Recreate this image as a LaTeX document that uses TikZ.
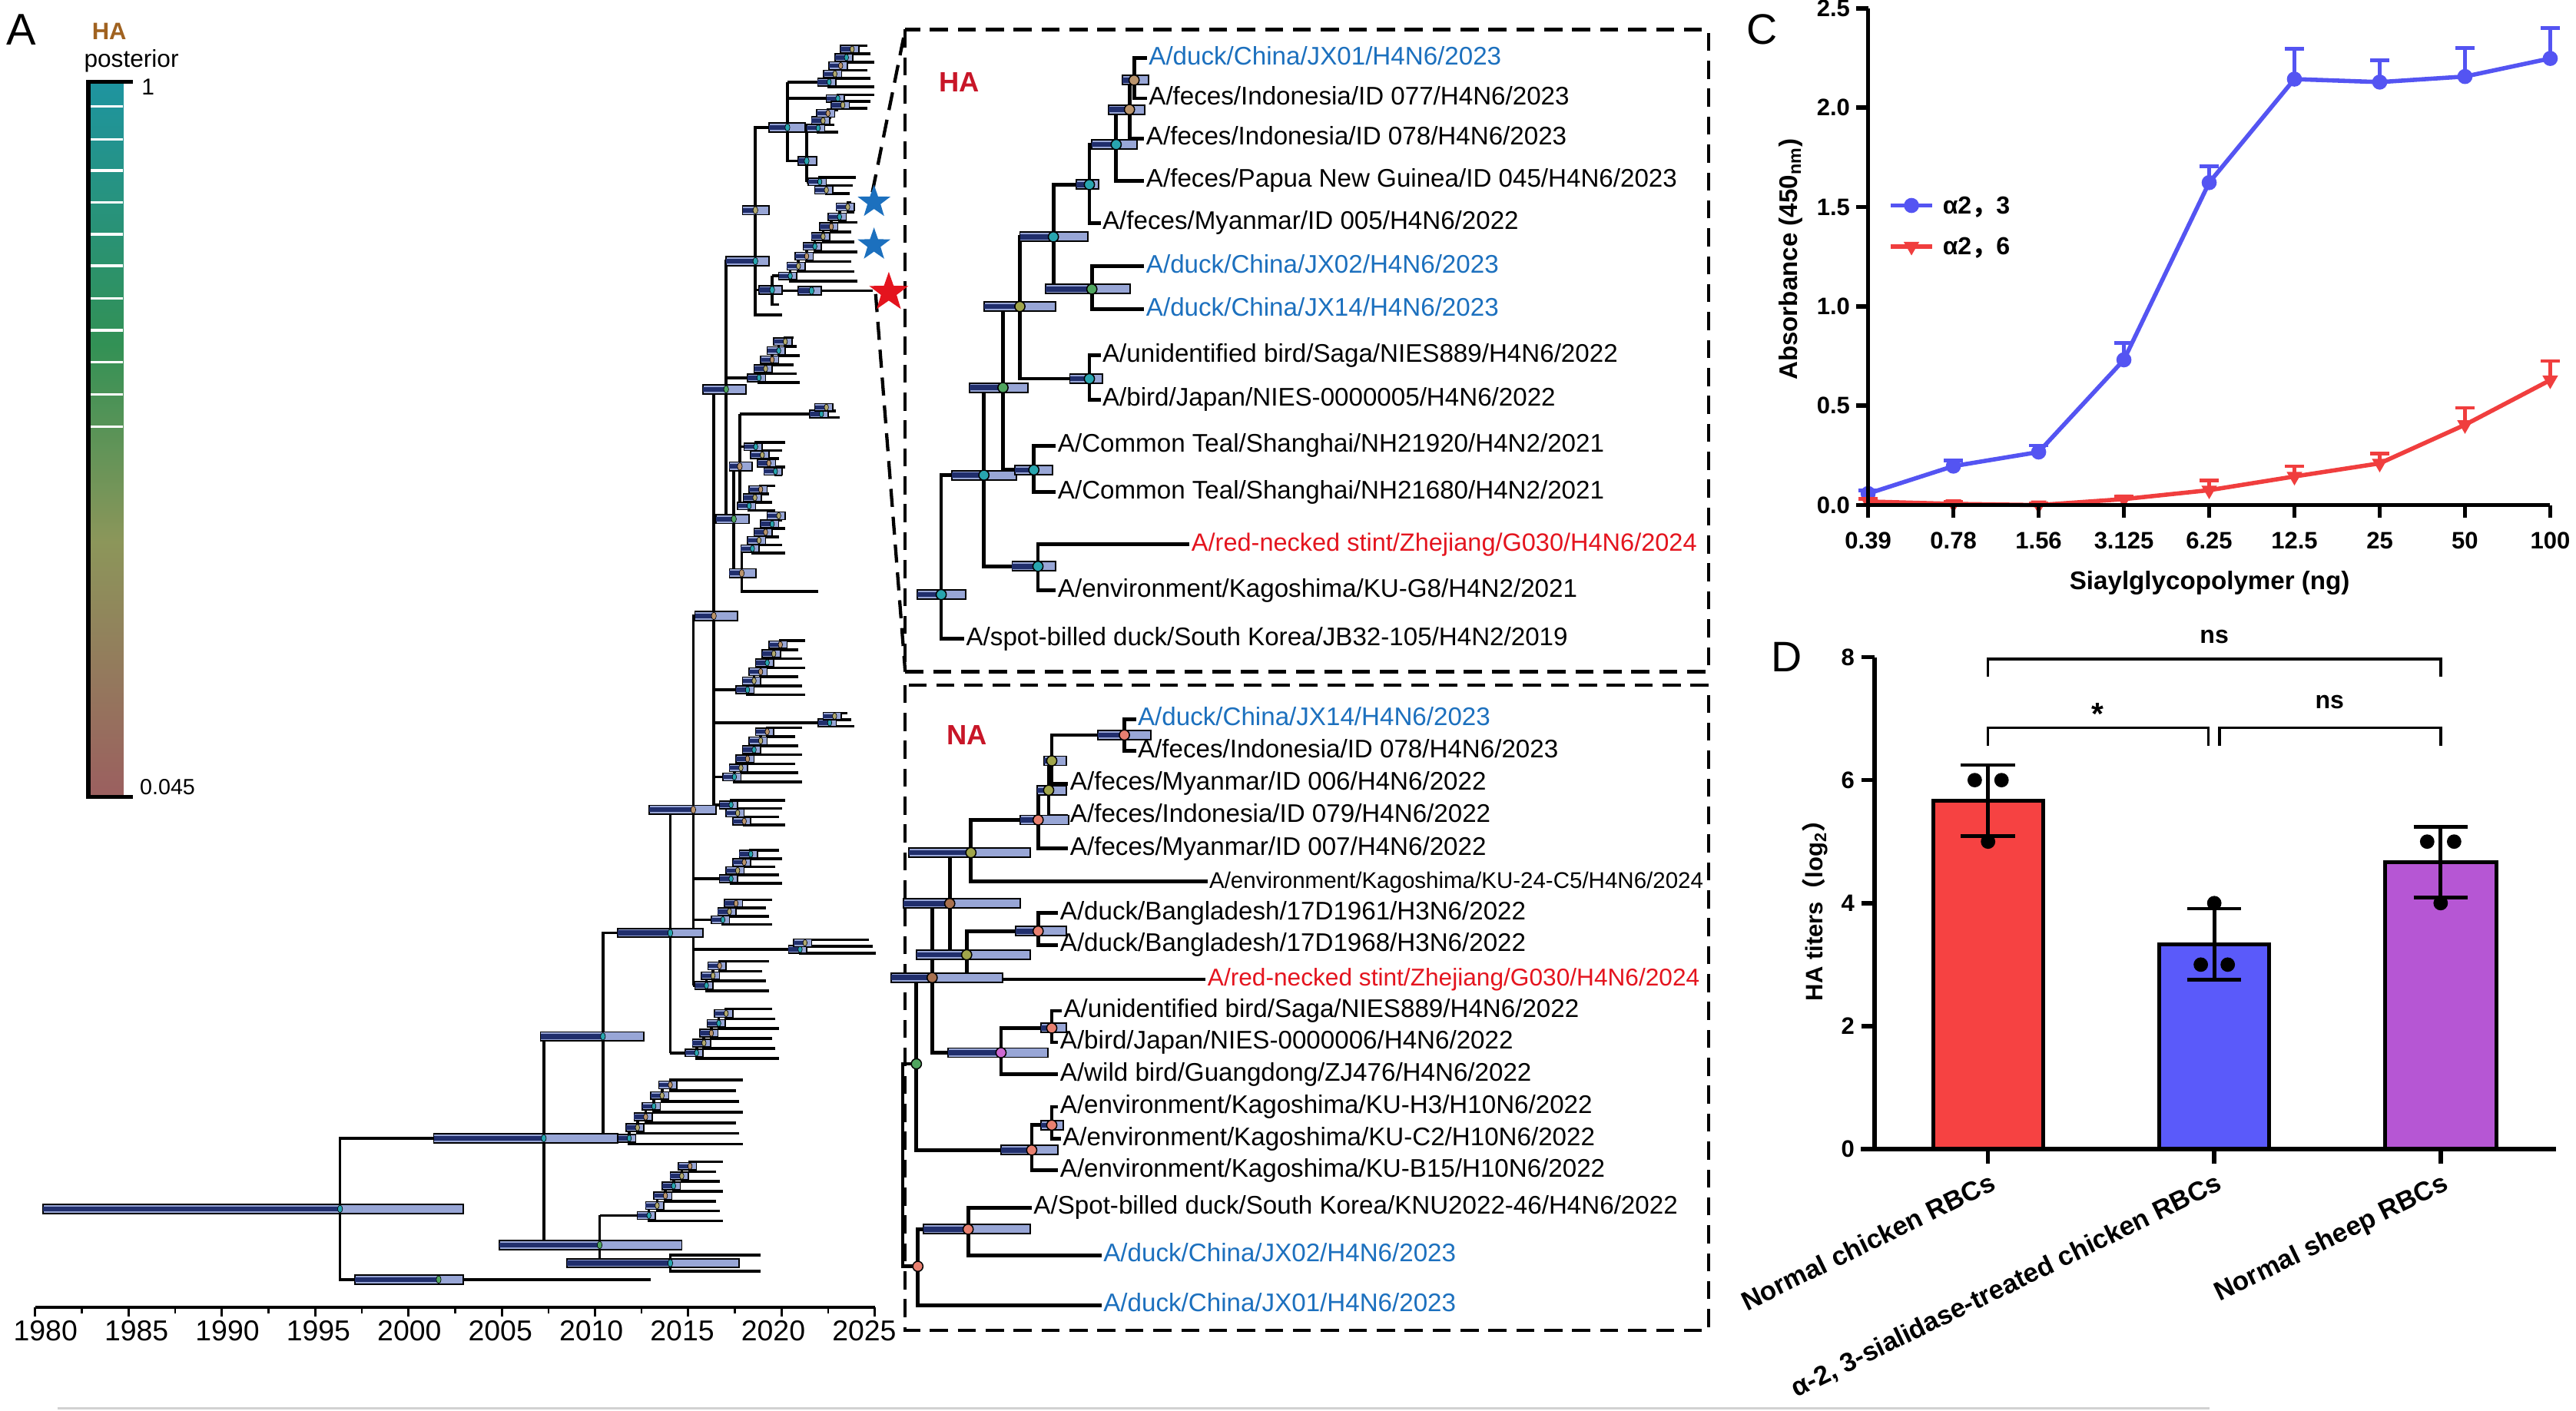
\documentclass[tikz,border=0pt]{standalone}
\usepackage{fontspec}
\setmainfont{Liberation Sans}
\newfontfamily\cjk{Noto Sans CJK SC}
\usepackage{tikz}
\usetikzlibrary{shapes.geometric}

\definecolor{hpdlight}{RGB}{152,166,214}
\definecolor{hpddark}{RGB}{32,46,108}
\definecolor{dot0}{RGB}{40,165,175}
\definecolor{dot1}{RGB}{176,168,110}
\definecolor{dot2}{RGB}{186,148,108}
\definecolor{dotgreen}{RGB}{80,165,95}
\definecolor{dotsalmon}{RGB}{232,128,112}
\definecolor{dotpink}{RGB}{205,105,210}
\definecolor{dotbrown}{RGB}{168,112,78}
\definecolor{dotolive}{RGB}{160,165,75}
\definecolor{taxblue}{RGB}{28,112,190}
\definecolor{taxred}{RGB}{228,20,30}
\definecolor{panelred}{RGB}{200,22,40}
\definecolor{haBrown}{RGB}{160,98,32}
\definecolor{lineblue}{RGB}{84,84,242}
\definecolor{linered}{RGB}{240,62,62}
\definecolor{barred}{RGB}{246,66,66}
\definecolor{barblue}{RGB}{90,90,250}
\definecolor{barpurple}{RGB}{182,86,212}
\definecolor{cb1}{RGB}{30,148,160}
\definecolor{cb2}{RGB}{50,145,85}
\definecolor{cb3}{RGB}{140,150,90}
\definecolor{cb4}{RGB}{155,95,95}

\newcommand{\fsz}[1]{\fontsize{#1}{#1}\selectfont}

% HPD bar: [half height]{left}{node x}{right}{y}
\newcommand{\hpd}[5][2.3]{%
  \filldraw[fill=hpdlight, draw=black, line width=0.32*#1] (#2,#5-#1) rectangle (#4,#5+#1);
  \fill[hpddark] (#2,#5-0.55*#1) rectangle (#3,#5+0.55*#1);
}

% ladder clade: {parent x}{stem y}{first node x}{tips}{tip gap}{node step}{tip x}
\newcommand{\ladder}[7]{%
  \pgfmathsetmacro{\lyb}{#2+0.55*(#5)}
  \pgfmathtruncatemacro{\lnn}{#4-2}
  \draw[branch] (#1,#2) -- (#3,#2);
  \foreach \j in {0,...,\lnn}{
    \pgfmathsetmacro{\lx}{#3+\j*(#6)}
    \pgfmathsetmacro{\ly}{\lyb-\j*(#5)}
    \pgfmathsetmacro{\lt}{\lyb-(\j+1)*(#5)-(\j<\lnn)*0.55*(#5)}
    \pgfmathsetmacro{\lr}{\j<\lnn ? \lx+(#6) : #7-2*mod(\j+1,3)}
    \pgfmathsetmacro{\le}{#7-2*mod(\j,3)}
    \draw[branch] (\le,\ly) -| (\lx,\lt) -- (\lr,\lt);
  }
  \foreach \j in {0,...,\lnn}{
    \pgfmathsetmacro{\lx}{#3+\j*(#6)}
    \pgfmathsetmacro{\ly}{\lyb-(\j+0.55)*(#5)}
    \pgfmathtruncatemacro{\lc}{mod(\j,3)}
    \hpd{\lx-7}{\lx}{\lx+4}{\ly}
    \fill[dot\lc, draw=black, line width=0.3] (\lx,\ly) ellipse (1.3 and 2);
  }
}

\begin{document}
\begin{tikzpicture}[x=1pt, y=-1pt,
  branch/.style={line width=1.7},
  habranch/.style={line width=2.2},
  taxon/.style={anchor=west, inner sep=1pt, text height=11pt, text depth=3pt, font=\fsz{15.5}},
  boxline/.style={line width=2, dash pattern=on 11pt off 6pt},
  ticklab/.style={font=\bfseries\fsz{14.5}, inner sep=1pt},
  grouplab/.style={font=\bfseries\fsz{16.2}, inner sep=1pt, rotate=26, anchor=north east},
  axisline/.style={line width=2.6},
  errbar/.style={line width=2.2}]
\useasboundingbox (0,0) rectangle (1568,859);
\fill[white] (0,0) rectangle (1568,859);

% ---------- panel A: colour key ----------
\node[font=\fsz{27}, inner sep=0] (pA) at (13,18) {A};
\node[font=\bfseries\fsz{14.5}, text=haBrown, inner sep=0] (keyHA) at (66.5,19) {HA};
\node[font=\fsz{14.8}, inner sep=0] (keyPost) at (80,37) {posterior};
\shade[top color=cb1, bottom color=cb2] (55,50) rectangle (75,210);
\shade[top color=cb2, bottom color=cb3] (55,209.5) rectangle (75,330);
\shade[top color=cb3, bottom color=cb4] (55,329.5) rectangle (75,485);
\foreach \wy in {64.8,84.8,103.9,123.1,142.7,161.8,181.8,201.0,220.5,240.1,259.7}
  \draw[white, line width=1.6] (55,\wy) -- (75,\wy);
\draw[line width=2.4] (81,50) -- (53.8,50) -- (53.8,485) -- (81,485);
\node[font=\fsz{14}, anchor=west, inner sep=0] (key1) at (86,53) {1};
\node[font=\fsz{13.4}, anchor=west, inner sep=0] (key0) at (85,479) {0.045};

% ---------- panel A: time tree ----------
% backbone
\draw[branch] (331,693) -| (207,779) -- (396,779);
\draw[branch] (367,631) -| (331,758) -- (365,758);
\draw[branch] (408,568) -| (367,693);
\draw[branch] (422,493) -| (408,641);
\draw[branch] (434.5,375) -| (422,600);
\draw[branch] (442,237) -| (434.5,490);
\draw[branch] (459.8,159) -| (442,316) -- (446.7,316);
\draw[branch] (446.7,284) -- (450.3,284);
\draw[branch] (446.7,284) -- (446.7,349) -- (451.5,349);
\draw[branch] (450.3,252) -- (450.3,308);
\draw[branch] (451.5,334) -- (451.5,360) -- (498,360);
\draw[branch] (479.3,77.6) -| (459.8,191.7) -- (476,191.7);
\draw[branch] (459.8,176.5) -- (470,176.5);
\draw[branch] (470,168) -- (470,185.5) -- (474,185.5);
\draw[branch] (470,177) -- (531,177);
\draw[branch] (479.3,50) -- (479.3,98) -- (491,98);
\draw[branch] (491,78) -- (491,110.7);
\draw[branch] (365,740) -- (365,769) -- (408,769);
\draw[branch] (463,764) -| (408,774) -- (463,774);

% clades
\ladder{365}{740}{395}{7}{6}{5}{440}
\ladder{367}{693}{383}{7}{6.5}{5}{452}
\ladder{408}{641}{424}{6}{6}{4.5}{474}
\ladder{422}{600}{430}{4}{6}{4}{468}
\ladder{422}{578}{487}{3}{4}{3}{533}
\ladder{422}{560}{440}{4}{5}{4}{470}
\ladder{422}{535}{445}{5}{5}{4}{476}
\ladder{434.5}{490}{445}{4}{-5}{4}{478}
\ladder{434.5}{473}{447}{7}{5.5}{4}{488}
\ladder{434.5}{440}{505}{3}{4}{3}{520}
\ladder{434.5}{420}{455}{7}{5.5}{4}{490}
\ladder{442}{230}{462}{6}{5.5}{4}{487}
\ladder{450.3}{252}{500}{3}{4}{3}{511}
\ladder{450.3}{272}{460}{5}{-5}{4}{478}
\ladder{450.3}{308}{456}{4}{5}{3.5}{472}
\ladder{451.5}{334}{458}{6}{5}{4}{478}
\ladder{470}{168}{481}{9}{6}{5}{522}
\ladder{479.3}{50}{504.7}{6}{5}{3.5}{532}
\ladder{479.3}{60}{510}{3}{-4}{3}{532}
\ladder{491}{78}{498}{4}{4.5}{3}{510}
\ladder{491}{110.7}{499}{3}{-5}{4}{521}

% backbone bars and posterior dots
\foreach \xl/\xn/\xr/\yn/\dc in {26/207/282/736/dot0, 216/267/282/779/dotgreen,
    264/331/376/693/dot0, 304/365/415/758/dotgreen, 345/408/450/769/dot0,
    329/367/392/631/dot0, 376/408/428/568/dot0, 395/422/436/493/dot2,
    423/434.5/449/375/dot2, 428/442/454/237/dotgreen, 436/446.7/456/316/dotgreen,
    444/450.3/458/284/dot2, 444/451.5/460/349/dot2, 442/459.8/468/159/dot0,
    452/459.8/468/128/dot1, 462/470/476/176.5/dot0, 468/479.3/490/77.6/dot0,
    486/491/497/98/dot0, 486/494/500/177/dot0}{
  \hpd[2.7]{\xl}{\xn}{\xr}{\yn}
  \fill[\dc, draw=black, line width=0.3] (\xn,\yn) ellipse (1.5 and 2.3);
}

% time axis
\draw[line width=1.6] (21.5,796) -- (532.5,796);
\foreach \k in {0,...,9}{
  \pgfmathsetmacro{\tx}{21.5+56.78*\k}
  \pgfmathsetmacro{\lx}{27.7+55.37*\k}
  \pgfmathtruncatemacro{\yr}{1980+5*\k}
  \draw[line width=1.4] (\tx,796) -- (\tx,801.5);
  \node[font=\fsz{17.5}, inner sep=0] (yr\k) at (\lx,810) {\yr};
}
\foreach \k in {0,...,8}{
  \pgfmathsetmacro{\tx}{21.5+56.78*(\k+0.5)}
  \draw[line width=1.2] (\tx,796) -- (\tx,799.5);
}

% ---------- zoom boxes ----------
\coordinate (haNW) at (551,18);
\coordinate (haSE) at (1040,409);
\coordinate (haSW) at (551,409);
\coordinate (naNW) at (551,417);
\coordinate (naSE) at (1040,810);
\coordinate (zoomTop) at (531,117);
\coordinate (zoomBot) at (533,179);
\draw[boxline] (haNW) rectangle (haSE);
\draw[boxline] (naNW) rectangle (naSE);
\draw[boxline] (zoomTop) -- (haNW);
\draw[boxline] (zoomBot) -- (haSW);
\node[star, star points=5, star point ratio=2.5, fill=taxblue, inner sep=0, minimum size=21pt] (starA) at (532,123) {};
\node[star, star points=5, star point ratio=2.5, fill=taxblue, inner sep=0, minimum size=21pt] (starB) at (532,149) {};
\node[star, star points=5, star point ratio=2.5, fill=taxred, inner sep=0, minimum size=25pt] (starC) at (541,178) {};

% ---------- HA subtree ----------
\node[font=\bfseries\fsz{17}, text=panelred] (haTitle) at (584,50) {HA};
\node[taxon, text=taxblue] (ha1) at (698.1,35.4) {A/duck/China/JX01/H4N6/2023};
\node[taxon] (ha2) at (698.1,59.9) {A/feces/Indonesia/ID 077/H4N6/2023};
\node[taxon] (ha3) at (696.5,84.3) {A/feces/Indonesia/ID 078/H4N6/2023};
\node[taxon] (ha4) at (696.5,110.0) {A/feces/Papua New Guinea/ID 045/H4N6/2023};
\node[taxon] (ha5) at (669.9,135.7) {A/feces/Myanmar/ID 005/H4N6/2022};
\node[taxon, text=taxblue] (ha6) at (696.5,162.1) {A/duck/China/JX02/H4N6/2023};
\node[taxon, text=taxblue] (ha7) at (696.5,188.3) {A/duck/China/JX14/H4N6/2023};
\node[taxon] (ha8) at (669.9,216.4) {A/unidentified bird/Saga/NIES889/H4N6/2022};
\node[taxon] (ha9) at (669.9,243.3) {A/bird/Japan/NIES-0000005/H4N6/2022};
\node[taxon] (ha10) at (642.7,271.4) {A/Common Teal/Shanghai/NH21920/H4N2/2021};
\node[taxon] (ha11) at (642.7,299.6) {A/Common Teal/Shanghai/NH21680/H4N2/2021};
\node[taxon, text=taxred, font=\fsz{15.2}] (ha12) at (724.1,331.4) {A/red-necked stint/Zhejiang/G030/H4N6/2024};
\node[taxon] (ha13) at (642.7,359.5) {A/environment/Kagoshima/KU-G8/H4N2/2021};
\node[taxon] (ha14) at (586.9,388.9) {A/spot-billed duck/South Korea/JB32-105/H4N2/2019};

\coordinate (hR) at (572.9,362);
\coordinate (hN1) at (598.9,289.3);
\coordinate (hN2) at (610.5,236);
\coordinate (hN3) at (620.8,186.6);
\coordinate (hN4) at (641.2,144.2);
\coordinate (hN5) at (663.1,112.4);
\coordinate (hN6) at (679.4,88);
\coordinate (hN7) at (687.5,66.7);
\coordinate (hN8) at (690.3,48.8);
\coordinate (hJX) at (664.6,176);
\coordinate (hSaga) at (663.1,230.6);
\coordinate (hTeal) at (629.3,286.1);
\coordinate (hSt) at (631.8,344.8);

\draw[habranch] (hN1) -| (hR) |- (ha14.west);
\draw[habranch] (hN2) -| (hN1) |- (hSt);
\draw[habranch] (hN3) -| (hN2) |- (hTeal);
\draw[habranch] (hN4) -| (hN3) |- (hSaga);
\draw[habranch] (hN5) -| (hN4) |- (hJX);
\draw[habranch] (hN6) -| (hN5) |- (ha5.west);
\draw[habranch] (hN7) -| (hN6) |- (ha4.west);
\draw[habranch] (hN8) -| (hN7) |- (ha3.west);
\draw[habranch] (ha1.west) -| (hN8) |- (ha2.west);
\draw[habranch] (ha6.west) -| (hJX) |- (ha7.west);
\draw[habranch] (ha8.west) -| (hSaga) |- (ha9.west);
\draw[habranch] (ha10.west) -| (hTeal) |- (ha11.west);
\draw[habranch] (ha12.west) -| (hSt) |- (ha13.west);

\foreach \xl/\xn/\xr/\yn/\dc in {558.2/572.9/587.9/362/dot0, 579.5/598.9/618.6/289.3/dot0,
    590.1/610.5/625.5/236/dotgreen, 598.9/620.8/642.7/186.6/dotolive,
    620.8/641.2/662.1/144.2/dot0, 655.2/663.1/668.7/112.4/dot0,
    664.6/679.4/692.2/88/dot0, 674.7/687.5/696.6/66.7/dot2,
    683.4/690.3/699.1/48.8/dot2, 636.5/664.6/688.1/176/dotgreen,
    651.2/663.1/670.9/230.6/dot0, 617.7/629.3/640.5/286.1/dot0,
    616.1/631.8/642.7/344.8/dot0}{
  \hpd[2.8]{\xl}{\xn}{\xr}{\yn}
  \fill[\dc, draw=black, line width=0.7] (\xn,\yn) circle (3.1);
}

% ---------- NA subtree ----------
\node[font=\bfseries\fsz{17}, text=panelred] (naTitle) at (588.5,447.5) {NA};
\node[taxon, text=taxblue] (na1) at (691.4,437.8) {A/duck/China/JX14/H4N6/2023};
\node[taxon] (na2) at (691.4,457.2) {A/feces/Indonesia/ID 078/H4N6/2023};
\node[taxon] (na3) at (650.2,477.1) {A/feces/Myanmar/ID 006/H4N6/2022};
\node[taxon] (na4) at (650.2,496.8) {A/feces/Indonesia/ID 079/H4N6/2022};
\node[taxon] (na5) at (650.2,516.5) {A/feces/Myanmar/ID 007/H4N6/2022};
\node[taxon, font=\fsz{13.8}] (na6) at (734.9,536.7) {A/environment/Kagoshima/KU-24-C5/H4N6/2024};
\node[taxon] (na7) at (644.1,555.8) {A/duck/Bangladesh/17D1961/H3N6/2022};
\node[taxon] (na8) at (644.1,575.3) {A/duck/Bangladesh/17D1968/H3N6/2022};
\node[taxon, text=taxred, font=\fsz{14.8}] (na9) at (733.9,596.3) {A/red-necked stint/Zhejiang/G030/H4N6/2024};
\node[taxon] (na10) at (646.3,615.4) {A/unidentified bird/Saga/NIES889/H4N6/2022};
\node[taxon] (na11) at (644.1,634.6) {A/bird/Japan/NIES-0000006/H4N6/2022};
\node[taxon] (na12) at (644.1,654.0) {A/wild bird/Guangdong/ZJ476/H4N6/2022};
\node[taxon] (na13) at (644.1,673.9) {A/environment/Kagoshima/KU-H3/H10N6/2022};
\node[taxon] (na14) at (645.7,693.4) {A/environment/Kagoshima/KU-C2/H10N6/2022};
\node[taxon] (na15) at (644.1,712.5) {A/environment/Kagoshima/KU-B15/H10N6/2022};
\node[taxon] (na16) at (628.0,735.3) {A/Spot-billed duck/South Korea/KNU2022-46/H4N6/2022};
\node[taxon, text=taxblue] (na17) at (670.5,764.2) {A/duck/China/JX02/H4N6/2023};
\node[taxon, text=taxblue] (na18) at (670.5,794.6) {A/duck/China/JX01/H4N6/2023};

\coordinate (n1) at (684.4,447.5);
\coordinate (n2) at (640.2,463.2);
\coordinate (n3) at (638.3,481.1);
\coordinate (n4) at (631.9,499.2);
\coordinate (n5) at (591.0,519.1);
\coordinate (n6) at (631.9,566.9);
\coordinate (n7) at (588.4,581.3);
\coordinate (n8) at (578.1,550.1);
\coordinate (n9) at (640.2,625.9);
\coordinate (n10) at (609.3,640.9);
\coordinate (n11) at (567.4,595.2);
\coordinate (n12) at (640.2,685.0);
\coordinate (n13) at (628.0,700.2);
\coordinate (n14) at (557.8,647.7);
\coordinate (n15) at (589.3,748.4);
\coordinate (n16) at (558.7,771.0);
\coordinate (nR) at (549.5,705);

\draw[habranch] (na1.west) -| (n1) |- (na2.west);
\draw[habranch] (n1) -| (n2) |- (na3.west);
\draw[habranch] (n2) -| (n3) |- (na4.west);
\draw[habranch] (n3) -| (n4) |- (na5.west);
\draw[habranch] (n4) -| (n5) |- (na6.west);
\draw[habranch] (na7.west) -| (n6) |- (na8.west);
\draw[habranch] (n6) -| (n7) |- (na9.west);
\draw[habranch] (n5) -| (n8) |- (n7);
\draw[habranch] (na10.west) -| (n9) |- (na11.west);
\draw[habranch] (n9) -| (n10) |- (na12.west);
\draw[habranch] (n8) -| (n11) |- (n10);
\draw[habranch] (na13.west) -| (n12) |- (na14.west);
\draw[habranch] (n12) -| (n13) |- (na15.west);
\draw[habranch] (n11) -| (n14) |- (n13);
\draw[habranch] (na16.west) -| (n15) |- (na17.west);
\draw[habranch] (n15) -| (n16) |- (na18.west);
\draw[habranch] (n14) -| (nR) |- (n16);

\foreach \xl/\xn/\xr/\yn/\dc in {668.3/684.4/700.5/447.5/dotsalmon, 635.4/640.2/649/463.2/dotolive,
    631.2/638.3/649/481.1/dotolive, 620.9/631.9/650.5/499.2/dotsalmon,
    553.3/591.0/627.3/519.1/dotolive, 618.3/631.9/649/566.9/dotsalmon,
    557.8/588.4/627.3/581.3/dotolive, 550/578.1/620.9/550.1/dotbrown,
    633.8/640.2/649/625.9/dotsalmon, 577.1/609.3/637.7/640.9/dotpink,
    542.6/567.4/610.3/595.2/dotbrown, 633.8/640.2/647.3/685/dotsalmon,
    609.3/628/644.1/700.2/dotsalmon, 562/589.3/627.3/748.4/dotsalmon}{
  \hpd[2.8]{\xl}{\xn}{\xr}{\yn}
  \fill[\dc, draw=black, line width=0.7] (\xn,\yn) circle (3.1);
}
\fill[dotgreen, draw=black, line width=0.7] (n14) circle (3.1);
\fill[dotsalmon, draw=black, line width=0.7] (n16) circle (3.1);

% ---------- panel C: binding curves ----------
\node[font=\fsz{26}, inner sep=0] (pC) at (1072.5,18) {C};
\begin{scope}[shift={(1137.1,307.5)}, x=51.9pt, y=120.96pt]
  % error bars (upper)
  \foreach \i/\m/\t in {0/0.058/0.075, 1/0.196/0.225, 2/0.267/0.300, 3/0.731/0.817, 4/1.623/1.705,
      5/2.144/2.296, 6/2.129/2.240, 7/2.157/2.300, 8/2.248/2.400}{
    \draw[lineblue, errbar] (\i,\m) -- (\i,\t);
    \draw[lineblue, errbar] (\i-0.11,\t) -- (\i+0.11,\t);
  }
  \foreach \i/\m/\t in {0/0.018/0.03, 1/0.006/0.016, 2/0.0/0.01, 3/0.03/0.045, 4/0.075/0.123,
      5/0.144/0.196, 6/0.21/0.258, 7/0.404/0.489, 8/0.629/0.725}{
    \draw[linered, errbar] (\i,\m) -- (\i,\t);
    \draw[linered, errbar] (\i-0.11,\t) -- (\i+0.11,\t);
  }
  \draw[lineblue, line width=2.6] plot coordinates {(0,0.058) (1,0.196) (2,0.267) (3,0.731)
      (4,1.623) (5,2.144) (6,2.129) (7,2.157) (8,2.248)};
  \draw[linered, line width=2.6] plot coordinates {(0,0.018) (1,0.006) (2,0.0) (3,0.03)
      (4,0.075) (5,0.144) (6,0.21) (7,0.404) (8,0.629)};
  \foreach \i/\m in {0/0.058, 1/0.196, 2/0.267, 3/0.731, 4/1.623, 5/2.144, 6/2.129, 7/2.157, 8/2.248}
    \fill[lineblue] (\i,\m) circle (4.6pt);
  \foreach \i/\m in {0/0.018, 1/0.006, 2/0.0, 3/0.03, 4/0.075, 5/0.144, 6/0.21, 7/0.404, 8/0.629}
    \node[regular polygon, regular polygon sides=3, shape border rotate=180, fill=linered,
      inner sep=0, minimum size=11pt] at (\i,\m) {};
  % axes
  \draw[axisline] (0,2.5) -- (0,0) -- (8,0);
  \foreach \v [count=\k] in {0.0,0.5,1.0,1.5,2.0,2.5}{
    \draw[axisline] (-0.145,\v) -- (0,\v);
    \node[ticklab, anchor=east] (cy\k) at (-0.19,\v) {\v};
  }
  \foreach \lab [count=\k from 0] in {0.39,0.78,1.56,3.125,6.25,12.5,25,50,100}{
    \draw[axisline] (\k,0) -- (\k,-0.064);
    \node[ticklab] (cx\k) at (\k,-0.178) {\lab};
  }
\end{scope}
\node[rotate=90, font=\bfseries\fsz{15.5}] (cYlab) at (1090,158) {Absorbance (450\textsubscript{nm})};
\node[font=\bfseries\fsz{15.5}] (cXlab) at (1345,355) {Siaylglycopolymer (ng)};
% legend
\draw[lineblue, line width=2.6] (1151,125.1) -- (1176,125.1);
\fill[lineblue] (1163.5,125.1) circle (4.6pt);
\node[font=\bfseries\fsz{15}, anchor=west] (legA) at (1179,126) {α2{\cjk ，}3};
\draw[linered, line width=2.6] (1151,150) -- (1176,150);
\node[regular polygon, regular polygon sides=3, shape border rotate=180, fill=linered,
  inner sep=0, minimum size=11pt] (legBmark) at (1163.5,150) {};
\node[font=\bfseries\fsz{15}, anchor=west] (legB) at (1179,151) {α2{\cjk ，}6};

% ---------- panel D: HA titers ----------
\node[font=\fsz{26}, inner sep=0] (pD) at (1087.5,400) {D};
\begin{scope}[shift={(1141,699.6)}, x=1pt, y=37.44pt]
  \filldraw[fill=barred, draw=black, line width=2.4] (35.6,0) rectangle (102.7,5.667);
  \filldraw[fill=barblue, draw=black, line width=2.4] (173.4,0) rectangle (240.2,3.333);
  \filldraw[fill=barpurple, draw=black, line width=2.4] (310.9,0) rectangle (378.4,4.667);
  \foreach \c/\m in {69.1/5.667, 206.8/3.333, 344.6/4.667}{
    \draw[errbar] (\c,\m-0.577) -- (\c,\m+0.577);
    \draw[errbar] (\c-16.5,\m-0.577) -- (\c+16.5,\m-0.577);
    \draw[errbar] (\c-16.5,\m+0.577) -- (\c+16.5,\m+0.577);
  }
  \foreach \px/\py in {61/6, 77.3/6, 69.1/5, 206.8/4, 198.6/3, 215/3, 336.4/5, 352.8/5, 344.6/4}
    \fill (\px,\py) circle (4.4pt);
  \draw[axisline] (0,8) -- (0,0);
  \draw[axisline] (-8.2,0) -- (414.6,0);
  \foreach \v in {0,2,4,6,8}{
    \draw[axisline] (-8,\v) -- (0,\v);
    \node[ticklab, anchor=east] (dy\v) at (-11,\v) {\v};
  }
  \foreach \c in {69.1,206.8,344.6}
    \draw[axisline] (\c,0) -- (\c,-0.24);
  % significance brackets
  \draw[line width=1.6] (69.1,7.68) -- (69.1,7.97) -- (344.6,7.97) -- (344.6,7.68);
  \draw[line width=1.6] (69.1,6.56) -- (69.1,6.85) -- (203.3,6.85) -- (203.3,6.56);
  \draw[line width=1.6] (209.9,6.56) -- (209.9,6.85) -- (344.6,6.85) -- (344.6,6.56);
  \node[font=\bfseries\fsz{15}] (sigTop) at (206.8,8.33) {ns};
  \node[font=\bfseries\fsz{19}] (sigStar) at (135.9,7.08) {*};
  \node[font=\bfseries\fsz{15}] (sigRight) at (277,7.27) {ns};
  % group labels
  \node[grouplab] (dx1) at (70,-0.33) {Normal chicken RBCs};
  \node[grouplab] (dx2) at (207.8,-0.33) {α-2, 3-sialidase-treated chicken RBCs};
  \node[grouplab] (dx3) at (345.6,-0.33) {Normal sheep RBCs};
\end{scope}
\node[rotate=90, font=\bfseries\fsz{14.5}] (dYlab) at (1104.8,550.8) {HA titers{\cjk （}log\textsubscript{2}{\cjk ）}};

% faint rule at the foot
\draw[gray!35, line width=1.2] (35,857.5) -- (1345,857.5);
\end{tikzpicture}
\end{document}
